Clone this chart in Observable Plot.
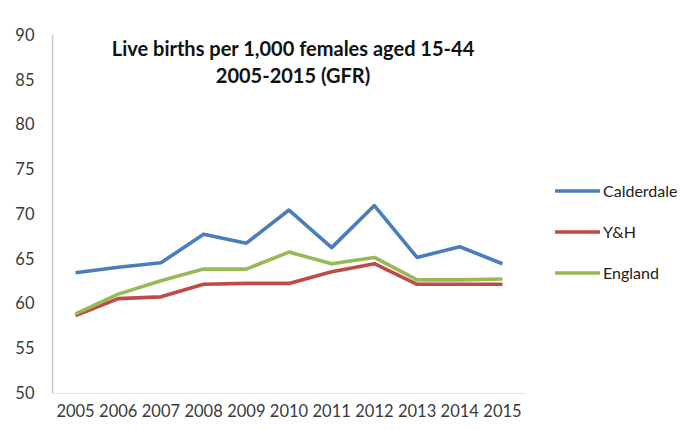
<!DOCTYPE html>
<html>
<head>
<meta charset="utf-8">
<script src="https://cdn.jsdelivr.net/npm/d3@7"></script>
<script src="https://cdn.jsdelivr.net/npm/@observablehq/plot@0.6"></script>
<style>
  html, body { margin: 0; padding: 0; background: #fff; }
  #wrap { position: relative; width: 700px; height: 430px; overflow: hidden; }
  #legend { position: absolute; left: 555px; top: 170px; font-family: Lato, "Open Sans", sans-serif; font-size: 16px; color: #222; }
  .item { display: flex; align-items: center; height: 41px; }
  .item svg { margin-right: 3px; }
</style>
</head>
<body>
<div id="wrap">
  <div id="chart"></div>
  <div id="legend"></div>
</div>
<script>
const years = [2005, 2006, 2007, 2008, 2009, 2010, 2011, 2012, 2013, 2014, 2015];
const calderdale = [63.5, 64.1, 64.6, 67.8, 66.8, 70.5, 66.3, 71.0, 65.2, 66.4, 64.5];
const yh = [58.7, 60.6, 60.8, 62.2, 62.3, 62.3, 63.6, 64.5, 62.2, 62.2, 62.2];
const england = [58.9, 61.1, 62.6, 63.9, 63.9, 65.8, 64.5, 65.2, 62.7, 62.7, 62.8];
const seriesNames = ["Calderdale", "Y&H", "England"];
const seriesColors = ["#4A7EBB", "#BE4B48", "#98B954"];
const yTicks = [50, 55, 60, 65, 70, 75, 80, 85, 90];
const titleLines = ["Live births per 1,000 females aged 15-44", "2005-2015 (GFR)"];

const seriesValues = [calderdale, yh, england];
const rows = [];
seriesNames.forEach((name, s) => {
  years.forEach((yr, i) => rows.push({series: name, year: yr, value: seriesValues[s][i]}));
});

const xDomain = [years[0] - 0.54, years[years.length - 1] + 0.54];

const chart = Plot.plot({
  width: 700,
  height: 430,
  marginLeft: 52,
  marginRight: 175,
  marginTop: 35,
  marginBottom: 37,
  style: {fontFamily: "Lato, 'Open Sans', sans-serif", background: "#fff"},
  x: {domain: xDomain, axis: null},
  y: {domain: [50, 90], axis: null},
  color: {domain: seriesNames, range: seriesColors},
  marks: [
    Plot.ruleX([xDomain[0]], {stroke: "#c8c8c8", strokeWidth: 1.5}),
    Plot.ruleY([50], {stroke: "#e2e2e2", strokeWidth: 1}),
    Plot.axisY(yTicks, {anchor: "left", tickSize: 0, tickPadding: 18, fontSize: 16.5, fill: "#3a3a3a", label: null, tickFormat: d => String(d)}),
    Plot.axisX(years, {anchor: "bottom", tickSize: 0, tickPadding: 12, fontSize: 16.5, fill: "#3a3a3a", label: null, tickFormat: d => String(d)}),
    Plot.line(rows, {x: "year", y: "value", z: "series", stroke: "series", strokeWidth: 3.6, strokeLinejoin: "round", strokeLinecap: "butt"}),
    Plot.text([titleLines[0]], {frameAnchor: "top", lineAnchor: "middle", dx: 4, dy: 14, fontSize: 20, fontWeight: "bold", fill: "#111"}),
    Plot.text([titleLines[1]], {frameAnchor: "top", lineAnchor: "middle", dx: 4, dy: 41, fontSize: 20, fontWeight: "bold", fill: "#111"})
  ]
});
document.getElementById("chart").appendChild(chart);

const legend = document.getElementById("legend");
seriesNames.forEach((name, i) => {
  const item = document.createElement("div");
  item.className = "item";
  item.innerHTML = `<svg width="45" height="6"><line x1="0" y1="3" x2="45" y2="3" stroke="${seriesColors[i]}" stroke-width="3.6"/></svg><span></span>`;
  item.querySelector("span").textContent = name;
  legend.appendChild(item);
});
</script>
</body>
</html>
